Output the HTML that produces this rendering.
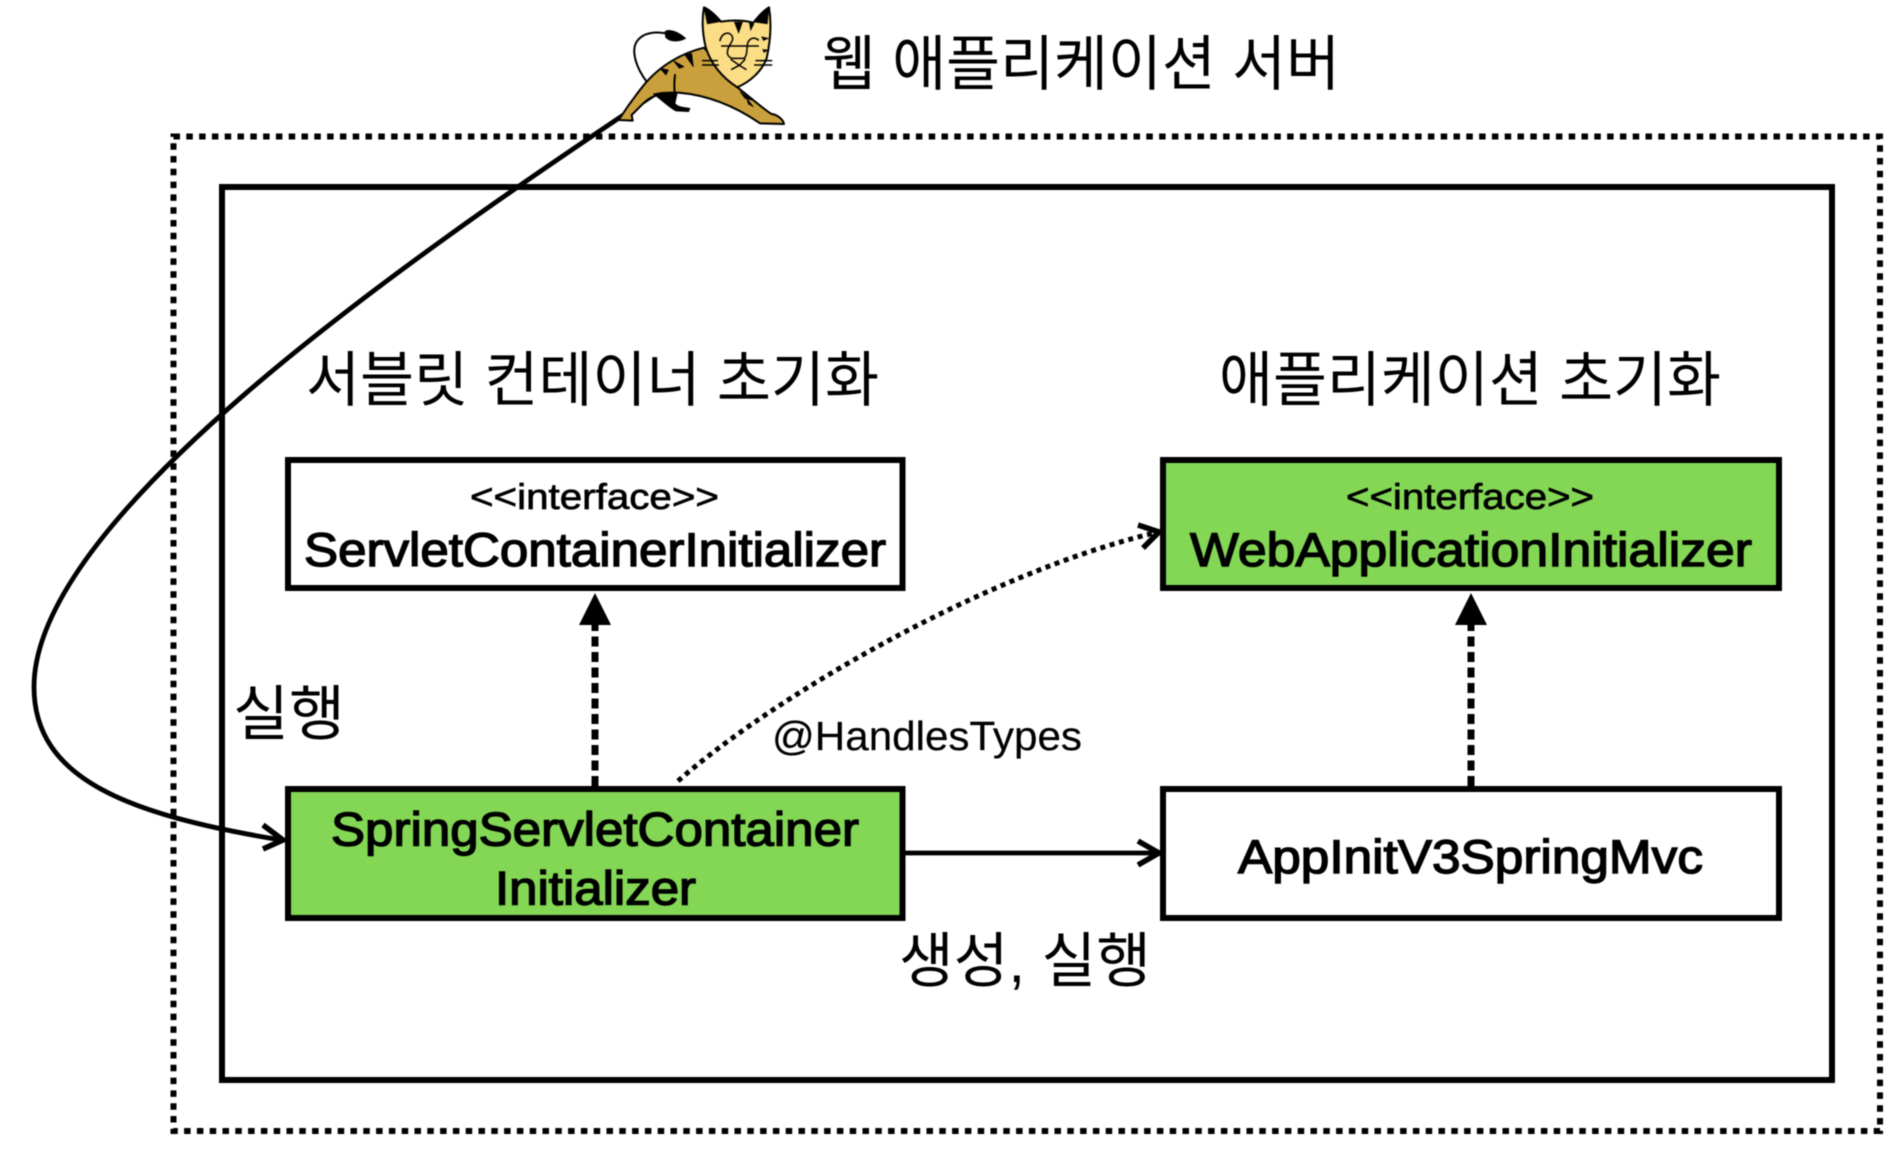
<!DOCTYPE html>
<html><head><meta charset="utf-8"><style>
html,body{margin:0;padding:0;background:#fff;width:1904px;height:1150px;overflow:hidden}
svg{display:block;filter:blur(.5px)}
text{fill:#000}
.k{font-family:"Liberation Sans","Noto Sans CJK KR",sans-serif;font-size:60px}
.b{font-family:"Liberation Sans",sans-serif;font-size:47px;stroke:#000;stroke-width:1.4px}
.i{font-family:"Liberation Sans",sans-serif;font-size:36px;stroke:#000;stroke-width:.7px}
</style></head><body>
<svg width="1904" height="1150" viewBox="0 0 1904 1150" xmlns="http://www.w3.org/2000/svg">
<rect width="1904" height="1150" fill="#fff"/>
<!-- containers -->
<rect x="173.500" y="136.500" width="1706.500" height="994.500" fill="none" stroke="#000" stroke-width="6" stroke-dasharray="6.500 6.300"/>
<rect x="222" y="187" width="1610" height="893" fill="none" stroke="#000" stroke-width="6"/>
<!-- boxes -->
<rect x="288" y="460" width="614.500" height="128" fill="#fff" stroke="#000" stroke-width="6"/>
<rect x="1167" y="460" width="612" height="128" fill="#83d755" stroke="#000" stroke-width="6" style="display:none"/>
<rect x="1163" y="460" width="616" height="128" fill="#83d755" stroke="#000" stroke-width="6"/>
<rect x="288" y="789" width="614.500" height="129" fill="#83d755" stroke="#000" stroke-width="6"/>
<rect x="1163" y="789" width="616" height="129" fill="#fff" stroke="#000" stroke-width="6"/>
<!-- connectors -->
<g fill="none" stroke="#000">
<path d="M655 94 C390 270 34 520 34 687 C34 780 130 815 281 840" stroke-width="4.800"/>
<path d="M263 825 L283 840 L263 849" stroke-width="5.500"/>
<path d="M595 786 V622" stroke-width="7" stroke-dasharray="10 5.500"/>
<path d="M1471 786 V622" stroke-width="7" stroke-dasharray="10 5.500"/>
<path d="M905 853 H1157" stroke-width="4.800"/>
<path d="M1138 841 L1159 853 L1138 865" stroke-width="5.500"/>
<path d="M678 781 C770 700 980 575 1154 533" stroke-width="5" stroke-dasharray="5 4.700"/>
<path d="M1138 525 L1159 532 L1143 548" stroke-width="5.500"/>
</g>
<path d="M595 593 L611 625 L579 625Z" fill="#000"/>
<path d="M1471 593 L1487 625 L1455 625Z" fill="#000"/>
<!-- tomcat -->
<g transform="translate(620 0) scale(.33333)" stroke="#000" stroke-linejoin="round" stroke-linecap="round">
<path d="M80 245 C50 205 32 155 50 125 C70 95 110 95 138 100" fill="none" stroke-width="6"/>
<path d="M135 95 C145 85 175 95 197 115 C180 125 150 128 137 112Z" fill="#000" stroke-width="2"/>
<path d="M-4 360 C28 310 55 275 80 245 C120 200 180 160 252 143 L352 262 C395 295 440 335 455 342 C475 345 490 360 492 372 L420 370 C340 315 260 285 175 278 C130 276 95 285 70 310 L35 345 L38 362Z" fill="#c9a03b" stroke-width="6"/>
<path d="M100 282 C125 275 150 275 172 278 L165 310 C172 322 195 322 210 325 L206 335 L168 333 C150 325 125 300 100 282Z" fill="#000" stroke-width="2"/>
<path d="M165 225 C162 250 162 265 165 285" fill="none" stroke-width="6"/>
<path d="M120 205 L145 210 L138 225Z M160 182 L192 200 L178 205Z M195 165 L220 200 L215 160Z M360 275 L395 300 L375 295Z M380 295 L400 320 L385 312Z" fill="#000" stroke-width="2"/>
<path d="M252 22 C270 30 290 50 303 65 C335 60 370 60 400 68 C415 50 430 32 447 22 C455 70 452 120 440 175 C425 215 390 245 352 262 C310 235 275 195 258 145 C248 105 245 60 252 22Z" fill="#fadd85" stroke-width="6"/>
<path d="M252 25 C270 32 290 50 303 65 L262 72Z M447 25 C430 33 412 50 400 66 L442 72Z M343 66 L368 66 L356 100Z M388 68 L402 72 L392 92Z" fill="#000" stroke-width="1"/>
<path d="M425 110 L447 115 L430 122Z M428 148 L445 150 L432 158Z" fill="#000" stroke-width="1"/>
<g fill="none" stroke-width="4.500">
<path d="M248 182 H292 M248 195 H295 M408 182 H455 M404 195 H455 M305 138 H415"/>
<path d="M300 122 C305 95 335 92 338 115 C338 130 322 135 322 160 C325 172 332 175 342 175 H372 C385 165 378 135 385 125 C392 112 405 112 415 120"/>
<path d="M333 178 L358 196 L375 178 M358 196 L335 208 M358 196 L378 208"/>
</g>
</g>
<!-- labels -->
<text class="k" x="822" y="85" textLength="518" lengthAdjust="spacingAndGlyphs">웹 애플리케이션 서버</text>
<text class="k" x="306" y="401" textLength="573" lengthAdjust="spacingAndGlyphs">서블릿 컨테이너 초기화</text>
<text class="k" x="1219" y="401" textLength="502" lengthAdjust="spacingAndGlyphs">애플리케이션 초기화</text>
<text class="i" x="470" y="509" textLength="249" lengthAdjust="spacingAndGlyphs">&lt;&lt;interface&gt;&gt;</text>
<text class="b" x="304" y="566" textLength="582" lengthAdjust="spacingAndGlyphs">ServletContainerInitializer</text>
<text class="i" x="1346" y="509" textLength="248" lengthAdjust="spacingAndGlyphs">&lt;&lt;interface&gt;&gt;</text>
<text class="b" x="1190" y="566" textLength="562" lengthAdjust="spacingAndGlyphs">WebApplicationInitializer</text>
<text class="k" x="233" y="735" textLength="112" lengthAdjust="spacingAndGlyphs">실행</text>
<text class="i" style="font-size:41px;stroke-width:.2px" x="772" y="750" textLength="310" lengthAdjust="spacingAndGlyphs">@HandlesTypes</text>
<text class="b" x="331" y="845.500" textLength="528" lengthAdjust="spacingAndGlyphs">SpringServletContainer</text>
<text class="b" x="495" y="904.500" textLength="201" lengthAdjust="spacingAndGlyphs">Initializer</text>
<text class="b" x="1238" y="873" textLength="465" lengthAdjust="spacingAndGlyphs">AppInitV3SpringMvc</text>
<text class="k" x="899" y="982" textLength="252" lengthAdjust="spacingAndGlyphs">생성, 실행</text>
</svg>
</body></html>
